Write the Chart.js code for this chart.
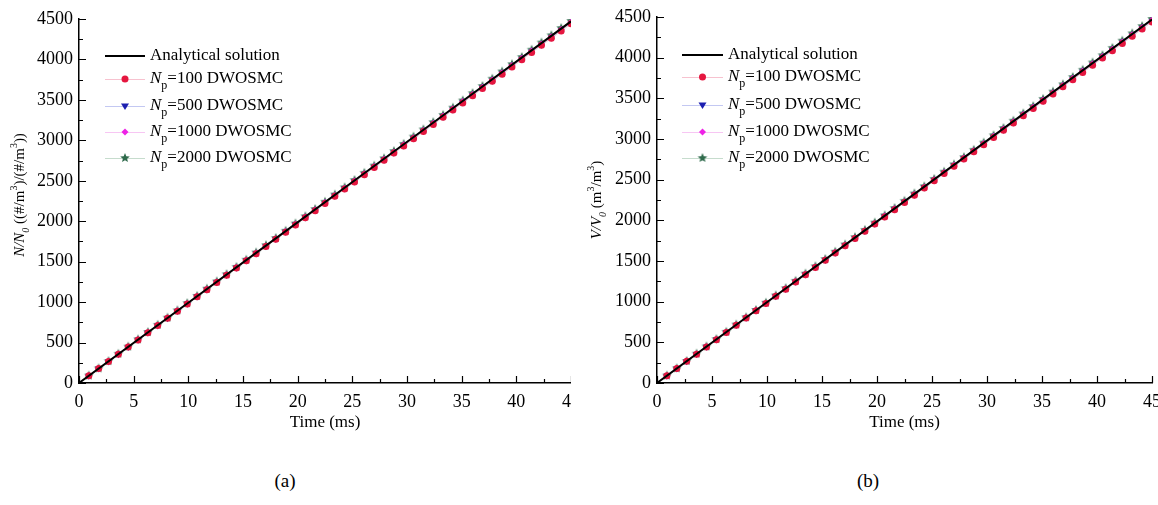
<!DOCTYPE html>
<html>
<head>
<meta charset="utf-8">
<script src="https://cdn.jsdelivr.net/npm/chart.js@4"></script>
<style>
  body { margin: 0; background: #fff; width: 1158px; height: 505px; position: relative; overflow: hidden; font-family: "Liberation Serif", serif; }
  .panel { position: absolute; top: 0; height: 440px; overflow: hidden; }
  #pa { left: 0; width: 571px; }
  #pb { left: 580px; width: 578px; }
  .cap { position: absolute; top: 470px; font-size: 19px; transform: translateX(-50%); }
</style>
</head>
<body>
<div class="panel" id="pa"><canvas id="chartA" width="592" height="440"></canvas></div>
<div class="panel" id="pb"><canvas id="chartB" width="592" height="440"></canvas></div>
<div class="cap" style="left:285px">(a)</div>
<div class="cap" style="left:868px">(b)</div>

<script>
// sample times of the DWOSMC markers (ms)
var timeMs = [0.9, 1.8, 2.7, 3.6, 4.5, 5.4, 6.3, 7.2, 8.1, 9.0, 9.9, 10.8, 11.7, 12.6, 13.5, 14.4, 15.3, 16.2, 17.1, 18.0,
  18.9, 19.8, 20.7, 21.6, 22.5, 23.4, 24.3, 25.2, 26.1, 27.0, 27.9, 28.8, 29.7, 30.6, 31.5, 32.4, 33.3, 34.2, 35.1, 36.0,
  36.9, 37.8, 38.7, 39.6, 40.5, 41.4, 42.3, 43.2, 44.1, 45.0];

// analytical solution (straight line)
var analyticalTime = [0, 9, 18, 27, 36, 45];
var analyticalValue = [0, 894, 1788, 2682, 3576, 4470];

// the two panels read the same, so both use these
var np100 = [89, 178, 266, 355, 444, 533, 622, 710, 799, 888, 977, 1066, 1154, 1243, 1332, 1421, 1510, 1598, 1687, 1776,
  1865, 1954, 2042, 2131, 2220, 2309, 2398, 2486, 2575, 2664, 2753, 2842, 2930, 3019, 3108, 3197, 3286, 3374, 3463, 3552,
  3641, 3730, 3818, 3907, 3996, 4085, 4174, 4262, 4351, 4440];
var np500 = [89, 178, 267, 356, 445, 534, 623, 712, 801, 890, 979, 1068, 1157, 1246, 1335, 1424, 1513, 1602, 1691, 1780,
  1869, 1958, 2047, 2136, 2225, 2314, 2403, 2492, 2581, 2670, 2759, 2848, 2937, 3026, 3115, 3204, 3293, 3382, 3471, 3560,
  3649, 3738, 3827, 3916, 4005, 4094, 4183, 4272, 4361, 4450];
var np1000 = [89, 178, 268, 357, 446, 535, 624, 714, 803, 892, 981, 1070, 1160, 1249, 1338, 1427, 1516, 1606, 1695, 1784,
  1873, 1962, 2052, 2141, 2230, 2319, 2408, 2498, 2587, 2676, 2765, 2854, 2944, 3033, 3122, 3211, 3300, 3390, 3479, 3568,
  3657, 3746, 3836, 3925, 4014, 4103, 4192, 4282, 4371, 4460];
var np2000 = [92, 181, 271, 361, 450, 540, 629, 719, 808, 898, 987, 1077, 1166, 1256, 1345, 1435, 1524, 1614, 1703, 1793,
  1882, 1972, 2061, 2151, 2240, 2330, 2419, 2509, 2598, 2688, 2777, 2867, 2956, 3046, 3135, 3225, 3314, 3404, 3493, 3583,
  3672, 3762, 3851, 3941, 4030, 4120, 4209, 4299, 4388, 4478];

var xTicks = [0, 5, 10, 15, 20, 25, 30, 35, 40, 45];
var yTicks = [0, 500, 1000, 1500, 2000, 2500, 3000, 3500, 4000, 4500];

var serif = "'Liberation Serif', serif";

function pts(xs, ys) {
  return xs.map(function(x, i) { return { x: x, y: ys[i] }; });
}

function starImage(color, r) {
  var c = document.createElement('canvas');
  c.width = c.height = 2 * r + 2;
  var g = c.getContext('2d');
  g.fillStyle = color;
  g.beginPath();
  for (var i = 0; i < 10; i++) {
    var ang = -Math.PI / 2 + i * Math.PI / 5;
    var rr = i % 2 ? r * 0.45 : r;
    g.lineTo(r + 1 + rr * Math.cos(ang), r + 1 + rr * Math.sin(ang));
  }
  g.closePath();
  g.fill();
  return c;
}
var star = starImage('#2f6b4c', 5);

var series = [
  { data: np100, color: '#e5163f', faint: '#f7c2cf', style: 'circle', radius: 3.5, rot: 0 },
  { data: np500, color: '#1c1fb0', faint: '#c3c8f2', style: 'triangle', radius: 4, rot: 180 },
  { data: np1000, color: '#ee22e6', faint: '#f7c6f3', style: 'rectRot', radius: 3.5, rot: 0 },
  { data: np2000, color: '#2f6b4c', faint: '#c6dccd', style: star, radius: 5, rot: 0 }
];

var legendText = [
  [{ t: 'Analytical solution' }],
  [{ t: 'N', i: true }, { t: 'p', sub: true }, { t: '=100 DWOSMC' }],
  [{ t: 'N', i: true }, { t: 'p', sub: true }, { t: '=500 DWOSMC' }],
  [{ t: 'N', i: true }, { t: 'p', sub: true }, { t: '=1000 DWOSMC' }],
  [{ t: 'N', i: true }, { t: 'p', sub: true }, { t: '=2000 DWOSMC' }]
];

function fontFor(p, size) {
  var s = (p.sub || p.sup) ? Math.round(size * 0.68) : size;
  return (p.i ? 'italic ' : '') + s + 'px ' + serif;
}

function drawRich(ctx, parts, x, y, size, center) {
  var w = 0;
  parts.forEach(function(p) { ctx.font = fontFor(p, size); p.w = ctx.measureText(p.t).width; w += p.w; });
  var cx = center ? x - w / 2 : x;
  ctx.textBaseline = 'middle';
  ctx.textAlign = 'left';
  parts.forEach(function(p) {
    ctx.font = fontFor(p, size);
    var dy = p.sub ? size * 0.4 : (p.sup ? -size * 0.38 : 0);
    ctx.fillText(p.t, cx, y + dy);
    cx += p.w;
  });
}

function drawMarker(ctx, s, x, y) {
  ctx.fillStyle = s.color;
  if (s.style === 'circle') {
    ctx.beginPath(); ctx.arc(x, y, s.radius, 0, Math.PI * 2); ctx.fill();
  } else if (s.style === 'triangle') {
    var r = s.radius;
    ctx.beginPath(); ctx.moveTo(x - r, y - r * 0.6); ctx.lineTo(x + r, y - r * 0.6); ctx.lineTo(x, y + r); ctx.closePath(); ctx.fill();
  } else if (s.style === 'rectRot') {
    var d = s.radius;
    ctx.beginPath(); ctx.moveTo(x, y - d); ctx.lineTo(x + d, y); ctx.lineTo(x, y + d); ctx.lineTo(x - d, y); ctx.closePath(); ctx.fill();
  } else {
    ctx.drawImage(s.style, x - s.style.width / 2, y - s.style.height / 2);
  }
}

var decor = {
  id: 'decor',
  afterDraw: function(chart) {
    var o = chart.options.plugins.decor;
    var ctx = chart.ctx, xs = chart.scales.x, ys = chart.scales.y, a = chart.chartArea;
    ctx.save();
    // inward major and minor ticks
    ctx.strokeStyle = '#000';
    ctx.lineWidth = 1.2;
    ctx.beginPath();
    for (var i = 0; i < xTicks.length; i++) {
      var px = Math.round(xs.getPixelForValue(xTicks[i])) + 0.5;
      ctx.moveTo(px, a.bottom); ctx.lineTo(px, a.bottom - 7);
      if (i < xTicks.length - 1) {
        var mx = Math.round(xs.getPixelForValue((xTicks[i] + xTicks[i + 1]) / 2)) + 0.5;
        ctx.moveTo(mx, a.bottom); ctx.lineTo(mx, a.bottom - 4);
      }
    }
    for (var j = 0; j < yTicks.length; j++) {
      var py = Math.round(ys.getPixelForValue(yTicks[j])) + 0.5;
      ctx.moveTo(a.left, py); ctx.lineTo(a.left + 7, py);
      if (j < yTicks.length - 1) {
        var my = Math.round(ys.getPixelForValue((yTicks[j] + yTicks[j + 1]) / 2)) + 0.5;
        ctx.moveTo(a.left, my); ctx.lineTo(a.left + 4, my);
      }
    }
    ctx.stroke();

    // y axis title (rotated rich text)
    ctx.fillStyle = '#000';
    ctx.save();
    ctx.translate(o.titleX, o.titleY);
    ctx.rotate(-Math.PI / 2);
    drawRich(ctx, o.title, 0, 0, 15, true);
    ctx.restore();

    // legend
    var lg = o.legend;
    for (var k = 0; k < legendText.length; k++) {
      var ry = lg.rows[k];
      if (k === 0) {
        ctx.strokeStyle = '#000'; ctx.lineWidth = 2;
        ctx.beginPath(); ctx.moveTo(lg.x0, ry); ctx.lineTo(lg.x1, ry); ctx.stroke();
      } else {
        var s = series[k - 1];
        ctx.strokeStyle = s.faint; ctx.lineWidth = 1;
        ctx.beginPath(); ctx.moveTo(lg.x0, ry + 0.5); ctx.lineTo(lg.x1, ry + 0.5); ctx.stroke();
        drawMarker(ctx, s, (lg.x0 + lg.x1) / 2, ry);
      }
      ctx.fillStyle = '#000';
      drawRich(ctx, legendText[k], lg.tx, ry, 17, false);
    }
    ctx.restore();
  }
};

function plain(v) { return String(v); }

function makeChart(id, opts) {
  var datasets = [{
    data: pts(analyticalTime, analyticalValue),
    showLine: true, borderColor: '#000', borderWidth: 2, pointRadius: 0
  }];
  series.forEach(function(s) {
    datasets.push({
      data: pts(timeMs, s.data),
      showLine: true, borderColor: s.faint, borderWidth: 1,
      pointStyle: s.style, pointRadius: s.radius, pointRotation: s.rot,
      pointBackgroundColor: s.color, pointBorderColor: s.color, pointBorderWidth: 0
    });
  });

  new Chart(document.getElementById(id), {
    type: 'scatter',
    data: { datasets: datasets },
    options: {
      responsive: false,
      animation: false,
      events: [],
      layout: { padding: { left: 0, top: opts.top, right: opts.right, bottom: 0 } },
      plugins: {
        legend: { display: false },
        tooltip: { enabled: false },
        decor: { title: opts.title, titleX: opts.titleX, titleY: opts.titleY, legend: opts.legend }
      },
      scales: {
        x: {
          type: 'linear', min: 0, max: 45,
          afterBuildTicks: function(sc) { sc.ticks = xTicks.map(function(v) { return { value: v }; }); },
          afterFit: function(sc) { sc.height = 57; },
          grid: { display: true, drawOnChartArea: false, drawTicks: false },
          border: { display: true, color: '#000', width: 1.5 },
          ticks: { color: '#000', font: { family: serif, size: 18 }, padding: 8, maxRotation: 0, callback: plain },
          title: { display: true, text: 'Time (ms)', color: '#000', font: { family: serif, size: 17 }, padding: { top: 0, bottom: 7 } }
        },
        y: {
          type: 'linear', min: 0, max: 4500,
          afterBuildTicks: function(sc) { sc.ticks = yTicks.map(function(v) { return { value: v }; }); },
          afterFit: function(sc) { sc.width = opts.left; },
          grid: { display: true, drawOnChartArea: false, drawTicks: false },
          border: { display: true, color: '#000', width: 1.5 },
          ticks: { color: '#000', font: { family: serif, size: 18 }, padding: 6, callback: plain }
        }
      }
    },
    plugins: [decor]
  });
}

makeChart('chartA', {
  left: 79, top: 19, right: 21,
  title: [{ t: 'N/N', i: true }, { t: '0', i: true, sub: true }, { t: ' ((#/m' }, { t: '3', sup: true }, { t: ')/(#/m' }, { t: '3', sup: true }, { t: '))' }],
  titleX: 20, titleY: 195,
  legend: { x0: 105, x1: 145, tx: 150, rows: [56, 79, 106, 132, 158] }
});

makeChart('chartB', {
  left: 77, top: 17, right: 20,
  title: [{ t: 'V/V', i: true }, { t: '0', i: true, sub: true }, { t: ' (m' }, { t: '3', sup: true }, { t: '/m' }, { t: '3', sup: true }, { t: ')' }],
  titleX: 17, titleY: 200,
  legend: { x0: 102, x1: 143, tx: 148, rows: [55, 77, 105, 132, 158] }
});
</script>
</body>
</html>
